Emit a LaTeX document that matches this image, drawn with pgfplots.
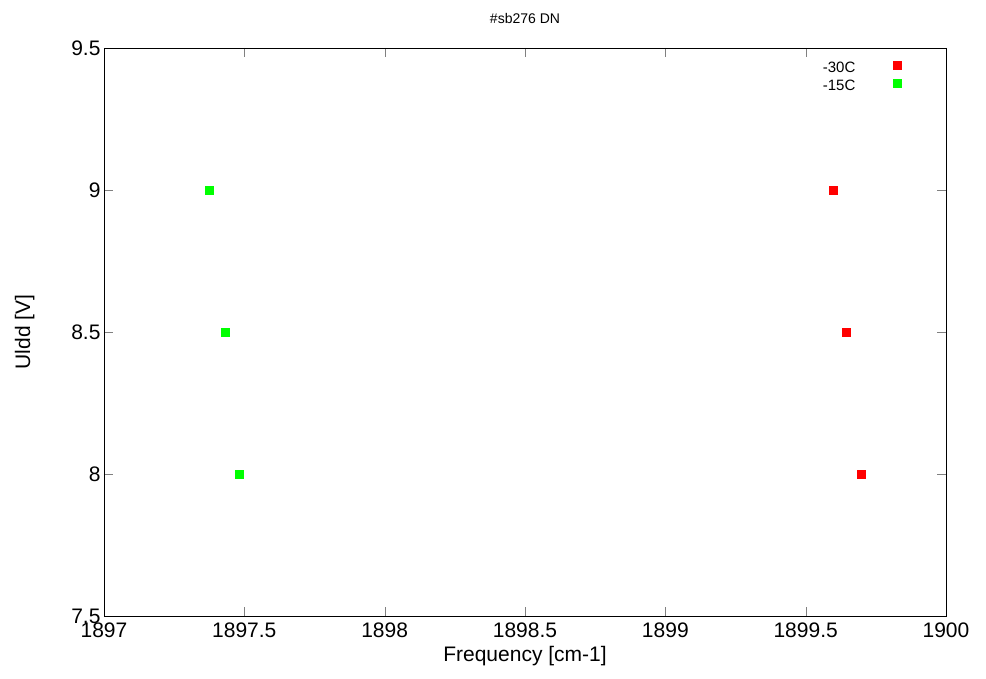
\documentclass[border=0pt]{standalone}
\usepackage{pgfplots}
\pgfplotsset{compat=1.18}
\usepackage{fontspec}
\setmainfont{Liberation Sans}
\begin{document}
\begin{tikzpicture}[x=1pt,y=1pt]
\path[use as bounding box] (-104,-63) rectangle (882,616);
\begin{axis}[
  at={(0,0)}, anchor=origin,
  scale only axis, width=842pt, height=568pt,
  xmin=1897, xmax=1900, ymin=7.5, ymax=9.5,
  xtick={1897,1897.5,...,1900}, ytick={7.5,8,8.5,9,9.5},
  /pgf/number format/assume math mode=true,
  /pgf/number format/1000 sep={},
  tick align=inside, tick pos=both,
  major tick length=9pt,
  ticklabel style={font=\fontsize{21}{24}\selectfont},
  xticklabel style={yshift=-3pt},
  xlabel={Frequency [cm-1]}, ylabel={Uldd [V]},
  label style={font=\fontsize{21}{24}\selectfont},
  xlabel style={yshift=-2pt}, ylabel style={yshift=30pt},
  title={\#sb276 DN}, title style={font=\fontsize{14}{16}\selectfont, yshift=15pt},
  legend style={draw=none, fill=none, at={(0.9473,0.979)}, anchor=north east, font=\fontsize{15}{17}\selectfont, row sep=2pt, inner sep=0pt},
  legend plot pos=right, legend cell align=right,
  legend image code/.code={\path[draw=none,fill=none] (0pt,0pt) rectangle (44pt,1pt); \draw[#1,draw=none,mark options={draw=none}] plot coordinates {(40pt,3pt)};},
  axis line style={line width=0.8pt},
]
\addplot[only marks, mark=square*, mark size=4pt, color=red] coordinates {(1899.597,9) (1899.643,8.5) (1899.697,8)};
\addlegendentry{-30C}
\addplot[only marks, mark=square*, mark size=4pt, color=green] coordinates {(1897.374,9) (1897.431,8.5) (1897.481,8)};
\addlegendentry{-15C}
\end{axis}
\end{tikzpicture}
\end{document}
